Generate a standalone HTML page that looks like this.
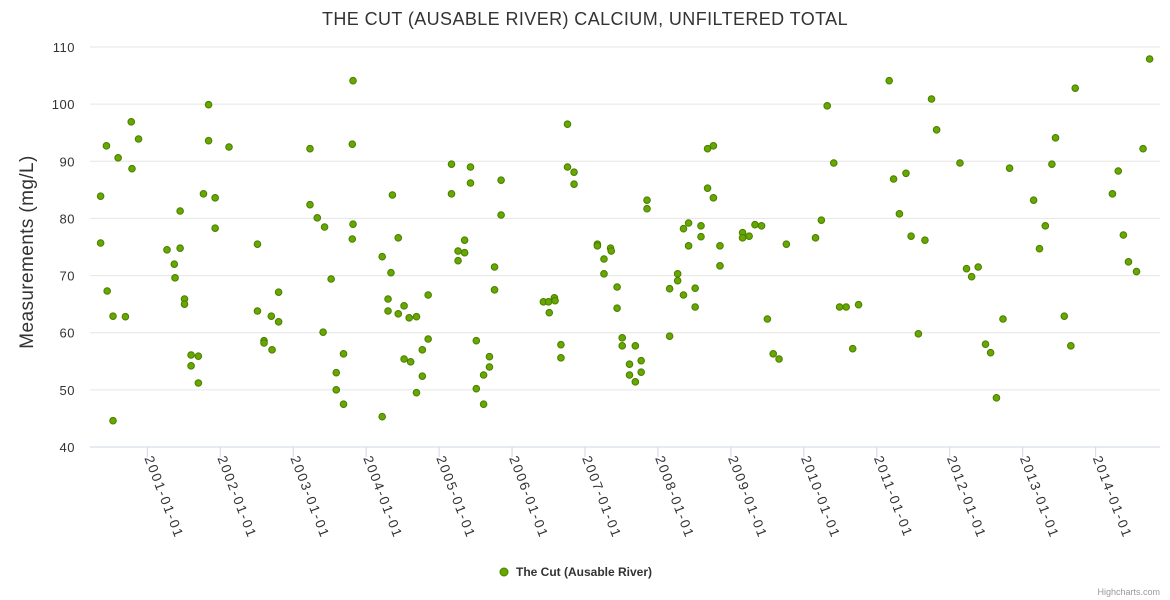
<!DOCTYPE html>
<html><head><meta charset="utf-8"><style>
body{margin:0;background:#fff;}
svg{font-family:"Liberation Sans","DejaVu Sans",sans-serif;display:block}
</style></head><body>
<svg id="c" width="1170" height="600">
<text x="585" y="25" text-anchor="middle" font-size="18" fill="#333" letter-spacing="0.4">THE CUT (AUSABLE RIVER) CALCIUM, UNFILTERED TOTAL</text>
<text transform="translate(33,252) rotate(-90)" text-anchor="middle" font-size="19" fill="#333" letter-spacing="0.4">Measurements (mg/L)</text>
<g id="grid"></g><g id="xaxis"></g><g id="pts"></g>
<g>
<circle cx="504" cy="572" r="4" fill="#66a800" stroke="#4a7c00" stroke-width="1"/>
<text x="516" y="576" font-size="12" font-weight="bold" fill="#333">The Cut (Ausable River)</text></g>
<text x="1160" y="595" text-anchor="end" font-size="9" fill="#999">Highcharts.com</text>
</svg>
<script>
const yTicks=[40,50,60,70,80,90,100,110];
const xTickYears=[2001,2002,2003,2004,2005,2006,2007,2008,2009,2010,2011,2012,2013,2014];
const xLabels=["2001-01-01","2002-01-01","2003-01-01","2004-01-01","2005-01-01","2006-01-01","2007-01-01","2008-01-01","2009-01-01","2010-01-01","2011-01-01","2012-01-01","2013-01-01","2014-01-01"];
const years=[2000.36,2000.36,2000.44,2000.45,2000.53,2000.53,2000.60,2000.70,2000.78,2000.79,2000.88,2001.27,2001.37,2001.38,2001.45,2001.45,2001.51,2001.51,2001.60,2001.60,2001.70,2001.70,2001.77,2001.84,2001.84,2001.93,2001.93,2002.12,2002.51,2002.51,2002.60,2002.60,2002.70,2002.71,2002.80,2002.80,2003.23,2003.23,2003.33,2003.43,2003.41,2003.52,2003.59,2003.59,2003.69,2003.69,2003.81,2003.82,2003.82,2003.81,2004.22,2004.22,2004.30,2004.30,2004.34,2004.36,2004.44,2004.44,2004.52,2004.52,2004.59,2004.61,2004.69,2004.69,2004.77,2004.77,2004.85,2004.85,2005.17,2005.17,2005.26,2005.26,2005.35,2005.35,2005.43,2005.43,2005.51,2005.51,2005.61,2005.61,2005.69,2005.69,2005.76,2005.76,2005.85,2005.85,2006.43,2006.50,2006.51,2006.58,2006.59,2006.67,2006.67,2006.76,2006.76,2006.85,2006.85,2007.17,2007.17,2007.26,2007.26,2007.35,2007.36,2007.44,2007.44,2007.51,2007.51,2007.61,2007.61,2007.69,2007.69,2007.77,2007.77,2007.85,2007.85,2008.16,2008.16,2008.27,2008.27,2008.35,2008.35,2008.42,2008.42,2008.51,2008.51,2008.59,2008.59,2008.68,2008.68,2008.76,2008.76,2008.85,2008.85,2009.16,2009.16,2009.25,2009.33,2009.42,2009.50,2009.58,2009.66,2009.76,2010.16,2010.24,2010.32,2010.41,2010.49,2010.58,2010.67,2010.75,2011.17,2011.23,2011.31,2011.40,2011.47,2011.57,2011.66,2011.75,2011.82,2012.14,2012.23,2012.30,2012.39,2012.49,2012.56,2012.64,2012.73,2012.82,2013.15,2013.23,2013.31,2013.40,2013.45,2013.57,2013.66,2013.72,2014.23,2014.31,2014.38,2014.45,2014.56,2014.65,2014.74];
const values=[83.9,75.7,92.7,67.3,62.9,44.6,90.6,62.8,96.9,88.7,93.9,74.5,72.0,69.6,81.3,74.8,65.9,65.0,56.1,54.2,55.9,51.2,84.3,99.9,93.6,83.6,78.3,92.5,75.5,63.8,58.6,58.2,62.9,57.0,67.1,61.9,92.2,82.4,80.1,78.5,60.1,69.4,53.0,50.0,56.3,47.5,93.0,104.1,79.0,76.4,45.3,73.3,65.9,63.8,70.5,84.1,76.6,63.3,64.7,55.4,62.6,54.9,62.8,49.5,57.0,52.4,66.6,58.9,89.5,84.3,74.3,72.6,76.2,74.0,89.0,86.2,58.6,50.2,52.6,47.5,55.8,54.0,71.5,67.5,86.7,80.6,65.4,65.4,63.5,66.1,65.6,57.9,55.6,96.5,89.0,88.1,86.0,75.5,75.2,72.9,70.3,74.8,74.3,68.0,64.3,59.1,57.7,54.5,52.6,57.7,51.4,55.1,53.1,83.2,81.7,67.7,59.4,70.3,69.1,78.2,66.6,79.2,75.2,67.8,64.5,78.7,76.8,92.2,85.3,92.7,83.6,75.2,71.7,77.5,76.6,76.9,78.9,78.7,62.4,56.3,55.4,75.5,76.6,79.7,99.7,89.7,64.5,64.5,57.2,64.9,104.1,86.9,80.8,87.9,76.9,59.8,76.2,100.9,95.5,89.7,71.2,69.8,71.5,58.0,56.5,48.6,62.4,88.8,83.2,74.7,78.7,89.5,94.1,62.9,57.7,102.8,84.3,88.3,77.1,72.4,70.7,92.2,107.9];
const NS="http://www.w3.org/2000/svg";
const X0=90,X1=1160,YT=47,YB=447;
function xs(yr){return 147.3+(yr-2001)*72.95;}
function ys(v){return YB-(v-40)*(YB-YT)/70;}
function mk(t,a,p){const e=document.createElementNS(NS,t);for(const k in a)e.setAttribute(k,a[k]);p.appendChild(e);return e;}
const g=document.getElementById('grid');
yTicks.forEach(v=>{
 const l=mk('line',{x1:X0,x2:X1,y1:ys(v),y2:ys(v),stroke:v===40?'#ccd6eb':'#e6e6e6','stroke-width':1},g);
 
 
 const t=mk('text',{x:75,y:ys(v)+5,'text-anchor':'end','font-size':13,fill:'#333','letter-spacing':0.5},g);
 t.textContent=v;
 
 
});
const xa=document.getElementById('xaxis');
xTickYears.forEach((yr,i)=>{
 const x=xs(yr);
 const l=mk('line',{x1:x,x2:x,y1:YB,y2:YB+10,stroke:'#ccd6eb'},xa);
 
 
 const t=mk('text',{transform:`translate(${x-3},${YB+11}) rotate(69)`,'font-size':13.5,fill:'#333','letter-spacing':1.8},xa);
 t.textContent=xLabels[i];
 
 
});
const pg=document.getElementById('pts');
years.forEach((yr,i)=>{
 const c=mk('circle',{cx:xs(yr),cy:ys(values[i]),r:3.3,fill:'#66a800',stroke:'#4a7c00','stroke-width':1},pg);
 
 
});
</script>
</body></html>
